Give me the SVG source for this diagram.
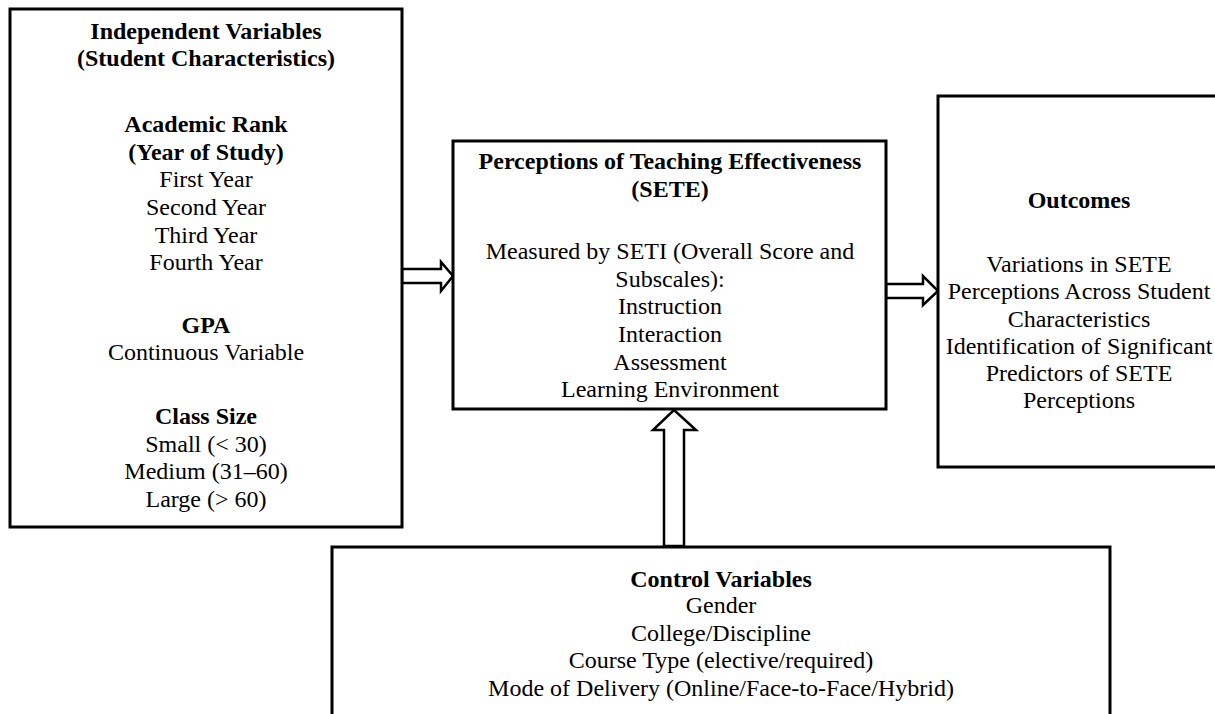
<svg xmlns="http://www.w3.org/2000/svg" width="1215" height="714" viewBox="0 0 1215 714">
<style>
.box{fill:#fff;stroke:#000;stroke-width:3}
.arr{fill:#fff;stroke:#000;stroke-width:2.5;stroke-linejoin:miter}
text{font-family:"Liberation Serif","Times New Roman",serif;font-size:24px;fill:#000;text-anchor:middle}
.b{font-weight:bold}
</style>
<rect width="1215" height="714" fill="#fff"/>
<g id="connectors">
<polygon class="arr" points="402,269 441,269 441,262 453,276 441,291 441,283 402,283"/>
<polygon class="arr" points="886,284 923,284 923,276 938,291 923,305 923,298 886,298"/>
<polygon class="arr" points="664,546 664,430 653,430 674,410 696,430 684,430 684,546"/>
</g>
<g id="independent">
<rect class="box" x="10" y="9" width="392" height="518"/>
<text class="b" x="206" y="39">Independent Variables</text>
<text class="b" x="206" y="66">(Student Characteristics)</text>
<text class="b" x="206" y="132">Academic Rank</text>
<text class="b" x="206" y="160">(Year of Study)</text>
<text x="206" y="187">First Year</text>
<text x="206" y="215">Second Year</text>
<text x="206" y="243">Third Year</text>
<text x="206" y="270">Fourth Year</text>
<text class="b" x="206" y="333">GPA</text>
<text x="206" y="360">Continuous Variable</text>
<text class="b" x="206" y="424">Class Size</text>
<text x="206" y="452">Small (&lt; 30)</text>
<text x="206" y="479">Medium (31–60)</text>
<text x="206" y="507">Large (&gt; 60)</text>
</g>
<g id="sete">
<rect class="box" x="453" y="141" width="433" height="268"/>
<text class="b" x="670" y="169">Perceptions of Teaching Effectiveness</text>
<text class="b" x="670" y="197">(SETE)</text>
<text x="670" y="259">Measured by SETI (Overall Score and</text>
<text x="670" y="287">Subscales):</text>
<text x="670" y="314">Instruction</text>
<text x="670" y="342">Interaction</text>
<text x="670" y="370">Assessment</text>
<text x="670" y="397">Learning Environment</text>
</g>
<g id="outcomes">
<rect class="box" x="938" y="96" width="290" height="371"/>
<text class="b" x="1079" y="208">Outcomes</text>
<text x="1079" y="272">Variations in SETE</text>
<text x="1079" y="299">Perceptions Across Student</text>
<text x="1079" y="327">Characteristics</text>
<text x="1079" y="354">Identification of Significant</text>
<text x="1079" y="381">Predictors of SETE</text>
<text x="1079" y="408">Perceptions</text>
</g>
<g id="control">
<rect class="box" x="332" y="547" width="778" height="180"/>
<text class="b" x="721" y="587">Control Variables</text>
<text x="721" y="613">Gender</text>
<text x="721" y="641">College/Discipline</text>
<text x="721" y="668">Course Type (elective/required)</text>
<text x="721" y="696">Mode of Delivery (Online/Face-to-Face/Hybrid)</text>
</g>
</svg>
